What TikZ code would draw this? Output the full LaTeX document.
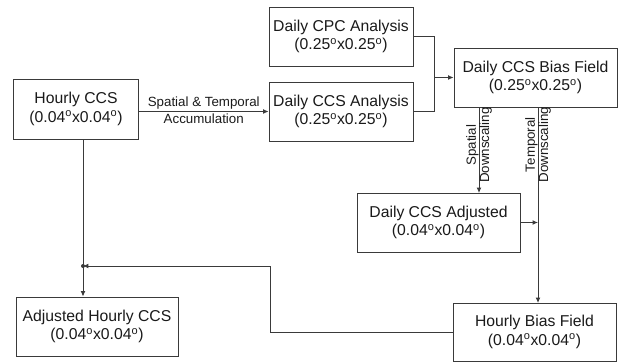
\documentclass[tikz,border=0pt]{standalone}
\usepackage{fontspec}
\setmainfont{Liberation Sans}
\usepackage{tikz}
\usetikzlibrary{arrows.meta, positioning, calc}
\definecolor{lineGray}{HTML}{3A3A3A}
\definecolor{textGray}{HTML}{1A1A1A}

\begin{document}
\begin{tikzpicture}[
  x=0.75pt, y=-0.75pt,
  box/.style={draw=lineGray, line width=0.7pt, fill=white, align=center, inner sep=1pt,
    text=textGray, font=\fontsize{11.8}{14}\selectfont},
  arr/.style={-{Latex[length=4pt, width=3.6pt]}, line width=0.7pt, draw=lineGray},
  lab/.style={text=textGray, font=\fontsize{10}{11.5}\selectfont, inner sep=1.5pt},
  vlab/.style={text=textGray, font=\fontsize{10}{10}\selectfont, align=center, rotate=90, inner sep=0pt},
]
  \useasboundingbox (0,0) rectangle (620,363);

  % boxes
  \node[box, minimum width=125*0.75pt, minimum height=60*0.75pt] (hccs) at (76,109) {Hourly CCS\\(0.04\textsuperscript{o}x0.04\textsuperscript{o})};
  \node[box, minimum width=144*0.75pt, minimum height=59*0.75pt] (cpc) at (341,36.5) {Daily CPC Analysis\\(0.25\textsuperscript{o}x0.25\textsuperscript{o})};
  \node[box, minimum width=144*0.75pt, minimum height=59*0.75pt] (dccs) at (341,111.5) {Daily CCS Analysis\\(0.25\textsuperscript{o}x0.25\textsuperscript{o})};
  \node[box, minimum width=163*0.75pt, minimum height=59*0.75pt] (bias) at (535.5,77.5) {Daily CCS Bias Field\\(0.25\textsuperscript{o}x0.25\textsuperscript{o})};
  \node[box, minimum width=163*0.75pt, minimum height=59*0.75pt] (adj) at (438.5,222.5) {Daily CCS Adjusted\\(0.04\textsuperscript{o}x0.04\textsuperscript{o})};
  \node[box, minimum width=163*0.75pt, minimum height=58*0.75pt] (hbias) at (534.5,332) {Hourly Bias Field\\(0.04\textsuperscript{o}x0.04\textsuperscript{o})};
  \node[box, minimum width=162*0.75pt, minimum height=59*0.75pt] (ahccs) at (97,326.5) {Adjusted Hourly CCS\\(0.04\textsuperscript{o}x0.04\textsuperscript{o})};

  % junctions
  \coordinate (merge) at (434,77.5);
  \coordinate (sdn) at (479,193);
  \coordinate (tdn) at (538,303);
  \coordinate (bend) at (270,266);
  \coordinate (jdot) at (83,266);

  \draw[arr] (dccs.west -| hccs.east) -- node[lab, above] {Spatial \& Temporal} node[lab, below] {Accumulation} (dccs.west);
  \draw[line width=0.7pt, draw=lineGray] (cpc.east) -| (merge);
  \draw[line width=0.7pt, draw=lineGray] (dccs.east) -| (merge);
  \draw[arr] (merge) -- (bias.west);
  \draw[arr] (sdn |- bias.south) -- node[vlab, pos=0.44] {Spatial\\Downscaling} (sdn);
  \draw[arr] (tdn |- bias.south) -- node[vlab, pos=0.19] {Temporal\\Downscaling} (tdn);
  \draw[arr] (adj.east) -- (adj.east -| tdn);
  \draw[arr] (hbias.west) -| (bend) -- (jdot);
  \draw[arr] (jdot |- hccs.south) -- (jdot |- ahccs.north);
  \fill[lineGray] (jdot) circle (2);
\end{tikzpicture}
\end{document}
